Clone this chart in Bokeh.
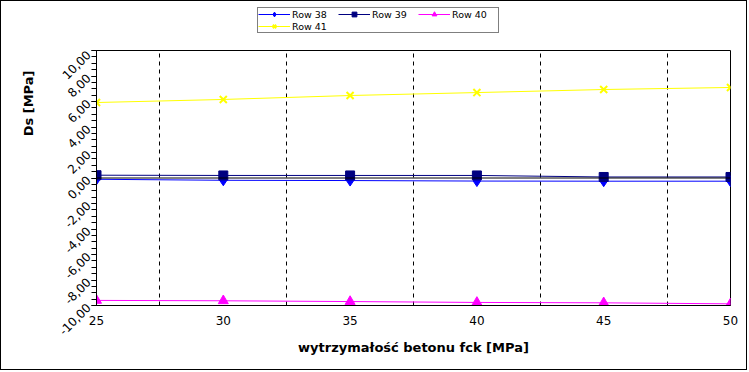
import math
from bokeh.plotting import figure
from bokeh.layouts import column
from bokeh.models import (FixedTicker, CustomJSTickFormatter, Legend, LegendItem,
                          Span, Title, Range1d)
from bokeh.embed import file_html
from bokeh.resources import INLINE

# ---- data ----
fck = [25, 30, 35, 40, 45, 50]
row38 = [-0.10, -0.18, -0.20, -0.24, -0.25, -0.25]
row39 = [0.22, 0.20, 0.20, 0.20, 0.08, 0.08]
row40 = [-9.60, -9.63, -9.69, -9.76, -9.79, -9.87]
row41 = [5.92, 6.16, 6.47, 6.70, 6.94, 7.10]
series_names = ["Row 38", "Row 39", "Row 40", "Row 41"]
colors = ["#0000FF", "#000080", "#FF00FF", "#FFFF00"]
markers = ["diamond", "square", "triangle", "x"]
y_ticks = [-10, -8, -6, -4, -2, 0, 2, 4, 6, 8, 10]
x_ticks = [25, 30, 35, 40, 45, 50]
grid_x = [27.5, 32.5, 37.5, 42.5, 47.5]
series_values = [row38, row39, row40, row41]

FONT = "DejaVu Sans"

# ---------------- main chart ----------------
p = figure(width=745, height=320, output_backend="svg", toolbar_location=None,
           x_range=Range1d(25, 50), y_range=Range1d(-10, 10),
           min_border_left=95, min_border_right=16, min_border_top=1,
           min_border_bottom=64)

p.outline_line_color = "black"
p.outline_line_width = 1

xa = p.xaxis[0]
xa.ticker = FixedTicker(ticks=x_ticks)
xa.major_tick_out = 0
xa.major_tick_in = 0
xa.minor_tick_out = 0
xa.minor_tick_in = 0
xa.major_label_standoff = 10
xa.major_label_text_font = FONT
xa.major_label_text_font_size = "12px"
xa.major_label_text_color = "black"
xa.axis_line_color = "black"
xa.axis_label = "wytrzymałość betonu fck [MPa]"
xa.axis_label_text_font = FONT
xa.axis_label_text_font_style = "bold"
xa.axis_label_text_font_size = "13px"
xa.axis_label_standoff = 12
xa.axis_label_text_color = "black"

ya = p.yaxis[0]
minor = [v / 2 for v in range(-20, 21)]
ya.ticker = FixedTicker(ticks=y_ticks, minor_ticks=minor)
ya.formatter = CustomJSTickFormatter(code="return tick.toFixed(2).replace('.', ',');")
ya.major_tick_out = 5
ya.major_tick_in = 0
ya.minor_tick_out = 5
ya.minor_tick_in = 0
ya.major_label_orientation = math.pi / 4
ya.major_label_text_font = FONT
ya.major_label_text_font_size = "12px"
ya.major_label_text_color = "black"
ya.major_label_standoff = 3
ya.axis_line_color = "black"

p.add_layout(Title(text="Ds [MPa]", align="right", offset=20, standoff=32,
                   text_font=FONT, text_font_style="bold",
                   text_font_size="13px", text_color="black"), "left")

p.ygrid.visible = False
p.xgrid.ticker = FixedTicker(ticks=grid_x)
p.xgrid.grid_line_color = "black"
p.xgrid.grid_line_dash = "4 4"
p.xgrid.grid_line_width = 1

p.add_layout(Span(location=0, dimension="width", line_color="black", line_width=1))

sizes = [11, 9, 10, 10]
for vals, col, mk, sz in zip(series_values, colors, markers, sizes):
    p.line(fck, vals, line_color=col, line_width=1)
    if mk == "x":
        p.scatter(fck, vals, marker=mk, size=sz, line_color=col, line_width=2)
    else:
        p.scatter(fck, vals, marker=mk, size=sz, color=col)

# ---------------- legend strip ----------------
# its ranges keep the (same) series out of view: only the legend shows
lf = figure(width=745, height=48, output_backend="svg", toolbar_location=None,
            x_range=Range1d(0, 1), y_range=Range1d(100, 101),
            min_border_left=0, min_border_right=0, min_border_top=0,
            min_border_bottom=0)
lf.axis.visible = False
lf.grid.visible = False
lf.outline_line_color = None

items = []
for name, vals, col, mk in zip(series_names, series_values, colors, markers):
    lr = lf.line(fck, vals, line_color=col, line_width=1)
    if mk == "x":
        sr = lf.scatter(fck, vals, marker=mk, line_color=col, line_width=2)
    else:
        sr = lf.scatter(fck, vals, marker=mk, color=col)
    items.append(LegendItem(label=name, renderers=[lr, sr]))

legend = Legend(items=items, orientation="horizontal", ncols=3,
                label_text_font=FONT, label_text_font_size="9.5px",
                label_text_color="black",
                label_height=9, glyph_height=12, glyph_width=32,
                label_width=46, label_standoff=2, spacing=0,
                padding=0, margin=0,
                border_line_color="black", border_line_width=1,
                location=(161, 16))
lf.add_layout(legend)

layout = column(lf, p, spacing=0, styles={"border": "1px solid black"})

open("out.html", "w").write(file_html(layout, INLINE))
